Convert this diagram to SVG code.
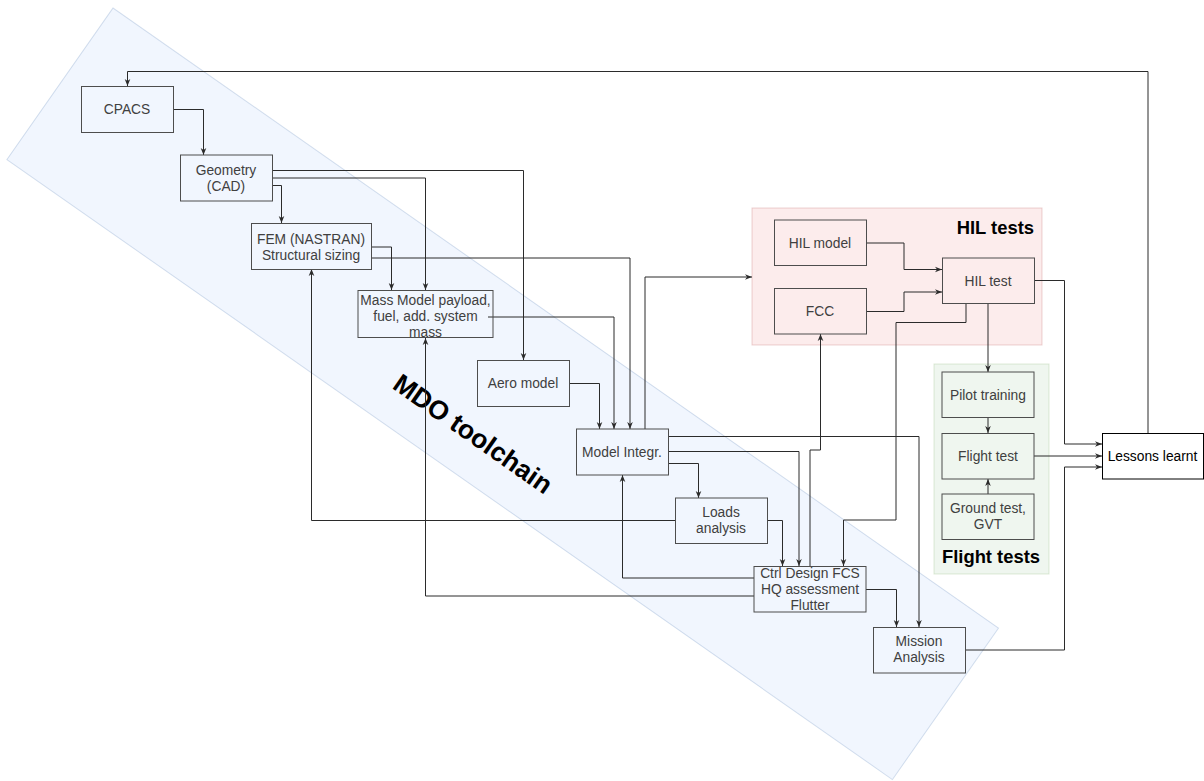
<svg xmlns="http://www.w3.org/2000/svg" width="1204" height="781" viewBox="0 0 1204 781">
<defs>
<style>
.band{fill:#dae8fc;fill-opacity:0.38;stroke:#6c8ebf;stroke-opacity:0.28;stroke-width:1}
.hil{fill:#f8cecc;fill-opacity:0.38;stroke:#b85450;stroke-opacity:0.25;stroke-width:1}
.flt{fill:#d5e8d4;fill-opacity:0.38;stroke:#82b366;stroke-opacity:0.25;stroke-width:1}
.box{fill:none;stroke:#4d4d4d;stroke-width:1}
.boxw{fill:#ffffff;stroke:#000000;stroke-width:1}
.t{font-family:"Liberation Sans",Arial,Helvetica,sans-serif;font-size:13.8px;fill:#404040;text-anchor:middle}
.tk{font-family:"Liberation Sans",Arial,Helvetica,sans-serif;font-size:13.8px;fill:#000000;text-anchor:middle}
.lbl{font-family:"Liberation Sans",Arial,Helvetica,sans-serif;font-size:18.4px;font-weight:bold;fill:#000000}
.e{fill:none;stroke:#2b2b2b;stroke-width:1;marker-end:url(#arr)}
</style>
<marker id="arr" viewBox="0 0 10 10" refX="10" refY="5" markerWidth="7" markerHeight="7" markerUnits="userSpaceOnUse" orient="auto">
<path d="M0,1 L10,5 L0,9 L3,5 z" fill="#2b2b2b"/>
</marker>
</defs>

<g id="mdo-band">
<rect class="band" x="0" y="0" width="1081" height="185" transform="translate(113,8) rotate(35)"/>
<text class="lbl" style="font-size:26.5px" text-anchor="middle" x="0" y="9" transform="translate(473,434) rotate(35)">MDO toolchain</text>
</g>

<g id="hil-tests">
<rect class="hil" x="752" y="208" width="290" height="137"/>
<text class="lbl" x="1034" y="234" text-anchor="end">HIL tests</text>
</g>

<g id="flight-tests">
<rect class="flt" x="934" y="364" width="115" height="210"/>
<text class="lbl" x="991" y="563" text-anchor="middle">Flight tests</text>
</g>

<g id="connectors">
<path class="e" d="M1148,433 V71.5 H127.5 V86"/>
<path class="e" d="M173,109.5 H203.5 V155"/>
<path class="e" d="M272,185.5 H281.5 V223"/>
<path class="e" d="M272,170.5 H523.5 V360"/>
<path class="e" d="M272,178 H425.5 V290"/>
<path class="e" d="M371,247 H391.5 V290"/>
<path class="e" d="M371,258 H630 V429"/>
<path class="e" d="M488,317 H614 V429"/>
<path class="e" d="M569,383.5 H599.5 V429"/>
<path class="e" d="M645,429 V277 H752"/>
<path class="e" d="M866,243 H904 V269.5 H942"/>
<path class="e" d="M866,311.5 H904 V292 H942"/>
<path class="e" d="M988,304 V372"/>
<path class="e" d="M966,304 V322.5 H896 V520 H843.5 V566"/>
<path class="e" d="M810,566 V450 H820.5 V334"/>
<path class="e" d="M668,436.5 H919 V627"/>
<path class="e" d="M668,451.5 H799 V566"/>
<path class="e" d="M668,463.5 H698.5 V498"/>
<path class="e" d="M767,520.5 H782.5 V566"/>
<path class="e" d="M675,520.5 H311.5 V269"/>
<path class="e" d="M754,578 H622.5 V475"/>
<path class="e" d="M754,596 H425.5 V338"/>
<path class="e" d="M866,589.5 H896.5 V627"/>
<path class="e" d="M965,650 H1064.5 V467 H1102"/>
<path class="e" d="M1034,280.5 H1064.5 V444 H1102"/>
<path class="e" d="M1034,456 H1102"/>
<path class="e" d="M988,418 V433"/>
<path class="e" d="M988,494 V479"/>
</g>

<g id="cpacs">
<rect class="box" x="81.5" y="86.5" width="92" height="46"/>
<text class="t" x="127" y="114">CPACS</text>
</g>
<g id="geometry">
<rect class="box" x="180.5" y="155" width="92" height="46"/>
<text class="t" x="226" y="174.8">Geometry</text>
<text class="t" x="226" y="191.3">(CAD)</text>
</g>
<g id="fem">
<rect class="box" x="251.5" y="223.5" width="120" height="46"/>
<text class="t" x="311" y="243.5">FEM (NASTRAN)</text>
<text class="t" x="311" y="260">Structural sizing</text>
</g>
<g id="mass-model">
<rect class="box" x="358" y="290.5" width="135" height="47"/>
<text class="t" x="425.5" y="304.8">Mass Model payload,</text>
<text class="t" x="425.5" y="320.5">fuel, add. system</text>
<text class="t" x="425.5" y="336.5">mass</text>
</g>
<g id="aero-model">
<rect class="box" x="477.5" y="360.5" width="92" height="46"/>
<text class="t" x="523" y="388">Aero model</text>
</g>
<g id="model-integr">
<rect class="box" x="576.5" y="429" width="92" height="46"/>
<text class="t" x="622" y="457">Model Integr.</text>
</g>
<g id="loads-analysis">
<rect class="box" x="675.5" y="498" width="92" height="45.5"/>
<text class="t" x="721" y="517">Loads</text>
<text class="t" x="721" y="533">analysis</text>
</g>
<g id="ctrl-design">
<rect class="box" x="754" y="566.5" width="112" height="45.5"/>
<text class="t" x="810" y="577.8">Ctrl Design FCS</text>
<text class="t" x="810" y="594">HQ assessment</text>
<text class="t" x="810" y="610">Flutter</text>
</g>
<g id="mission-analysis">
<rect class="box" x="873.5" y="627.5" width="92" height="45.5"/>
<text class="t" x="919" y="646">Mission</text>
<text class="t" x="919" y="662">Analysis</text>
</g>
<g id="hil-model">
<rect class="box" x="774.5" y="220" width="92" height="45.5"/>
<text class="t" x="820" y="248">HIL model</text>
</g>
<g id="fcc">
<rect class="box" x="774.5" y="288.5" width="92" height="45.5"/>
<text class="t" x="820" y="316">FCC</text>
</g>
<g id="hil-test">
<rect class="box" x="942.5" y="258" width="92" height="45.5"/>
<text class="t" x="988" y="286">HIL test</text>
</g>
<g id="pilot-training">
<rect class="box" x="942" y="372" width="92" height="45.5"/>
<text class="t" x="988" y="400">Pilot training</text>
</g>
<g id="flight-test">
<rect class="box" x="942" y="433.5" width="92" height="45.5"/>
<text class="t" x="988" y="461">Flight test</text>
</g>
<g id="ground-test">
<rect class="box" x="942" y="494" width="92" height="45.5"/>
<text class="t" x="988" y="513">Ground test,</text>
<text class="t" x="988" y="529">GVT</text>
</g>
<g id="lessons-learnt">
<rect class="boxw" x="1102.5" y="433.5" width="101" height="45.5"/>
<text class="tk" x="1152.5" y="461">Lessons learnt</text>
</g>
</svg>
